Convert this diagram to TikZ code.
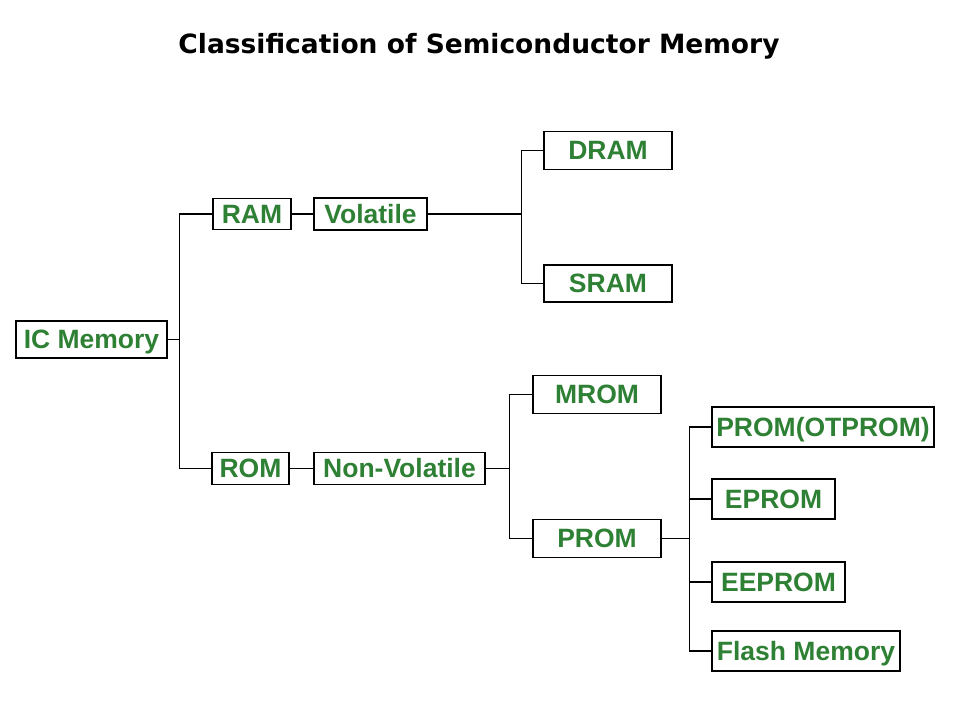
\documentclass[tikz,border=0pt]{standalone}
\usepackage{fontspec}
\setmainfont{Liberation Sans}
\newfontfamily\titlefont{DejaVu Sans}
\usetikzlibrary{positioning}
\definecolor{memgreen}{RGB}{46,128,52}

\begin{document}
\begin{tikzpicture}[
  x=1pt,y=-1pt,
  mem/.style={draw,line width=1.3pt,text=memgreen,inner sep=0pt,
    text height=18.6pt,text depth=0pt,
    font=\fontsize{26.5}{30}\selectfont\bfseries},
  link/.style={line width=1.3pt}
]
  \useasboundingbox (0,0) rectangle (960,720);
  \node[font=\titlefont\fontsize{26.5}{30}\selectfont\bfseries] (title) at (479,46)
    {Classification of Semiconductor Memory};

  % root and its two kinds
  \node[mem,minimum width=151pt,minimum height=37pt] (icm) at (91.5,339.5) {IC Memory};
  \node[mem,minimum width=78pt,minimum height=31pt] (ram) at (252,214) {RAM};
  \node[mem,minimum width=77pt,minimum height=32pt] (rom) at (250.5,468.5) {ROM};
  \node[mem,minimum width=113pt,minimum height=32pt] (vol) at (370.5,214) {Volatile};
  \node[mem,minimum width=171pt,minimum height=32pt] (nvol) at (399.5,468.5) {Non-Volatile};

  % RAM side
  \node[mem,minimum width=128pt,minimum height=38pt] (dram) at (608,150.5) {DRAM};
  \node[mem,minimum width=128pt,minimum height=37pt] (sram) at (608,283.5) {SRAM};

  % ROM side
  \node[mem,minimum width=128pt,minimum height=38pt] (mrom) at (597,394.5) {MROM};
  \node[mem,minimum width=128pt,minimum height=38pt] (prom) at (597,538.5) {PROM};
  \node[mem,minimum width=222pt,minimum height=40pt] (otp) at (823,427) {PROM(OTPROM)};
  \node[mem,minimum width=123pt,minimum height=40pt] (eprom) at (773.5,499) {EPROM};
  \node[mem,minimum width=133pt,minimum height=40pt] (eeprom) at (778.5,582) {EEPROM};
  \node[mem,minimum width=188pt,minimum height=40pt] (flash) at (806,651) {Flash Memory};

  % connectors
  \coordinate (j1) at ([xshift=12pt]icm.east);
  \coordinate (j2) at ([xshift=94pt]vol.east);
  \coordinate (j3) at ([xshift=24pt]nvol.east);
  \coordinate (j4) at ([xshift=28pt]prom.east);

  \draw[link] (icm.east) -- (j1);
  \draw[link] (ram.west) -| (j1) |- (rom.west);
  \draw[link] (ram) -- (vol);
  \draw[link] (rom) -- (nvol);

  \draw[link] (vol.east) -- (j2);
  \draw[link] (dram.west) -| (j2) |- (sram.west);

  \draw[link] (nvol.east) -- (j3);
  \draw[link] (mrom.west) -| (j3) |- (prom.west);

  \draw[link] (prom.east) -- (j4);
  \draw[link] (otp.west) -| (j4) |- (flash.west);
  \draw[link] (eprom.west) -- (eprom.west -| j4);
  \draw[link] (eeprom.west) -- (eeprom.west -| j4);
\end{tikzpicture}
\end{document}
